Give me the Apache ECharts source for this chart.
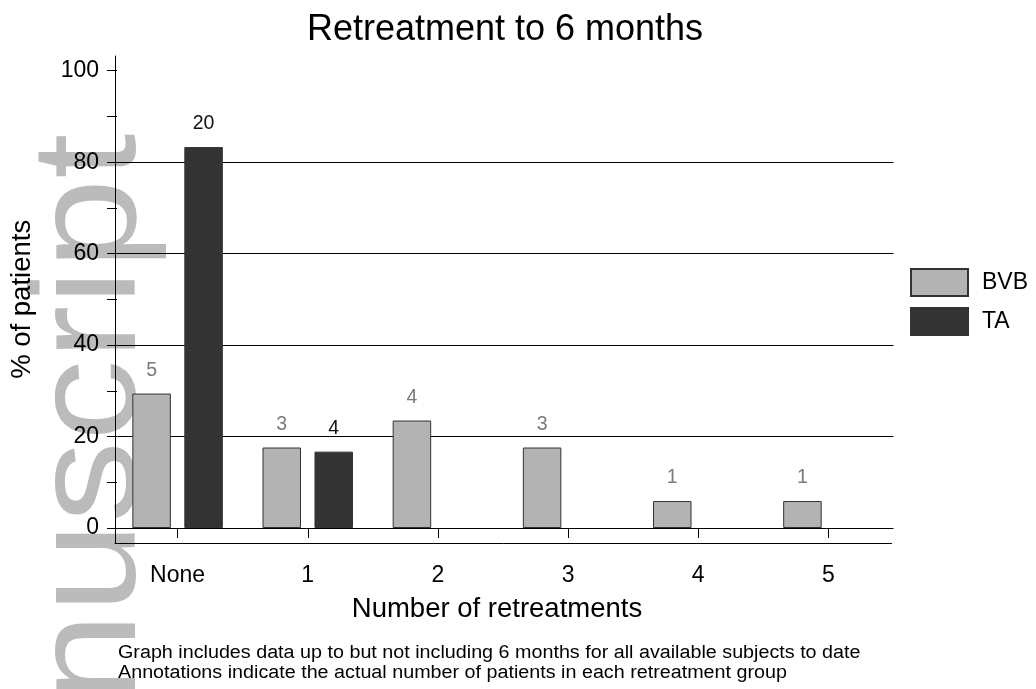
<!DOCTYPE html>
<html><head><meta charset="utf-8">
<script src="https://cdn.jsdelivr.net/npm/echarts@6/dist/echarts.min.js"></script>
<style>html,body{margin:0;padding:0;background:#fff}#c{width:1036px;height:689px}</style>
</head><body><div id="c"></div>
<script>
// ---- data ----
const categories = ['None', '1', '2', '3', '4', '5'];
const bvbPct = [29.4, 17.6, 23.5, 17.6, 5.9, 5.9];
const taPct = [83.3, 16.7, null, null, null, null];
const bvbCount = [5, 3, 4, 3, 1, 1];
const taCount = [20, 4, null, null, null, null];
const yTicks = [0, 20, 40, 60, 80, 100];
const seriesNames = ['BVB', 'TA'];
const titleText = 'Retreatment to 6 months';
const xName = 'Number of retreatments';
const yName = '% of patients';
const notes = [
  'Graph includes data up to but not including 6 months for all available subjects to date',
  'Annotations indicate the actual number of patients in each retreatment group'
];
const watermark = 'manuscript';

const FONT = "'Liberation Sans', Arial, Helvetica, sans-serif";
const chart = echarts.init(document.getElementById('c'), null, {renderer: 'canvas'});

function barSeries(name, values, counts, fill, labelColor) {
  return {
    name: name, type: 'bar', xAxisIndex: 0, yAxisIndex: 0,
    data: values, barWidth: 38.5, barGap: '35%',
    itemStyle: {color: fill, borderColor: '#333333', borderWidth: 1},
    label: {
      show: true, position: 'top', distance: 13,
      fontFamily: FONT, fontSize: 19.5, color: labelColor,
      formatter: p => (counts[p.dataIndex] == null ? '' : String(counts[p.dataIndex]))
    },
    emphasis: {disabled: true}, animation: false, z: 3
  };
}

chart.setOption({
  backgroundColor: '#ffffff',
  animation: false,
  title: {
    text: titleText, left: 500, top: 7, textAlign: 'center',
    textStyle: {fontFamily: FONT, fontSize: 36, fontWeight: 'normal', color: '#000'}
  },
  legend: {
    data: seriesNames, orient: 'vertical', left: 910, top: 268,
    itemWidth: 57, itemHeight: 27, itemGap: 10, padding: 0,
    icon: 'rect',
    textStyle: {fontFamily: FONT, fontSize: 23, color: '#000', padding: [0, 0, 0, 9]}
  },
  grid: [
    {left: 110.5, right: 142.5, top: 70.7, bottom: 161},
    {left: 115, right: 144.5, top: 56, bottom: 146}
  ],
  xAxis: [
    {
      type: 'category', gridIndex: 0, data: categories, offset: 15,
      axisLine: {show: false},
      axisTick: {show: true, alignWithLabel: true, length: 10, lineStyle: {color: '#000', width: 1}},
      axisLabel: {fontFamily: FONT, fontSize: 23, color: '#000', margin: 21, interval: 0},
      name: xName, nameLocation: 'middle', nameGap: 52,
      nameTextStyle: {fontFamily: FONT, fontSize: 27.5, color: '#000', padding: [0, 12, 0, 0]},
      splitLine: {show: false}
    },
    {
      type: 'value', gridIndex: 1, min: 0, max: 1,
      axisLine: {show: true, onZero: false, lineStyle: {color: '#000', width: 1}},
      axisTick: {show: false}, axisLabel: {show: false}, splitLine: {show: false}
    }
  ],
  yAxis: [
    {
      type: 'value', gridIndex: 0,
      min: yTicks[0], max: yTicks[yTicks.length - 1], interval: yTicks[1] - yTicks[0],
      offset: -4.5,
      axisLine: {show: false},
      axisTick: {show: true, length: 10, lineStyle: {color: '#000', width: 1}},
      minorTick: {show: true, splitNumber: 2, length: 10, lineStyle: {color: '#000', width: 1}},
      axisLabel: {fontFamily: FONT, fontSize: 23, color: '#000', margin: 18},
      splitLine: {show: true, showMaxLine: false, lineStyle: {color: '#000', width: 1}},
      name: yName, nameLocation: 'middle', nameGap: 81,
      nameTextStyle: {fontFamily: FONT, fontSize: 27.5, color: '#000'}
    },
    {
      type: 'value', gridIndex: 1, min: 0, max: 1,
      axisLine: {show: true, onZero: false, lineStyle: {color: '#000', width: 1}},
      axisTick: {show: false}, axisLabel: {show: false}, splitLine: {show: false}
    }
  ],
  series: [
    barSeries(seriesNames[0], bvbPct, bvbCount, '#b3b3b3', '#7a7a7a'),
    barSeries(seriesNames[1], taPct, taCount, '#333333', '#111111')
  ],
  graphic: [
    {
      type: 'text', z: -10, silent: true,
      x: 93.7, y: 133.5, rotation: Math.PI / 2, scaleX: 1.10, scaleY: 1,
      style: {text: watermark, fontFamily: FONT, fontSize: 148, fill: '#bbbbbb',
              align: 'right', verticalAlign: 'middle'}
    },
    {
      type: 'text', silent: true, x: 118, y: 653, scaleX: 1.096,
      style: {text: notes[0], fontFamily: FONT, fontSize: 18, fill: '#000', align: 'left', verticalAlign: 'middle'}
    },
    {
      type: 'text', silent: true, x: 118, y: 673, scaleX: 1.096,
      style: {text: notes[1], fontFamily: FONT, fontSize: 18, fill: '#000', align: 'left', verticalAlign: 'middle'}
    }
  ]
});
</script>
</body></html>
